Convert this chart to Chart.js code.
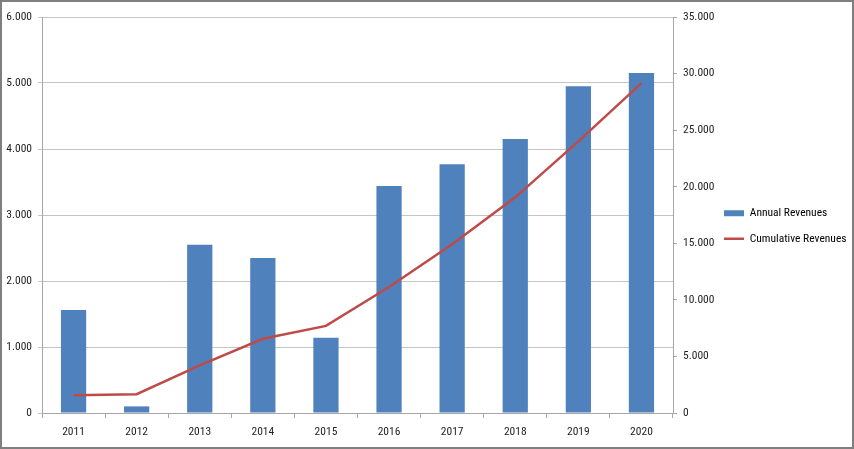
<!DOCTYPE html>
<html>
<head>
<meta charset="utf-8">
<script src="https://cdn.jsdelivr.net/npm/chart.js@4/dist/chart.umd.min.js"></script>
<style>
  html, body { margin: 0; padding: 0; background: #ffffff; }
  #wrap { position: absolute; left: 0; top: 0; width: 854px; height: 449px; box-sizing: border-box; border: 2px solid #7f7f7f; background: #fff; }
  #c { display: block; }
</style>
</head>
<body>
<div id="wrap"><canvas id="c" width="850" height="445"></canvas></div>
<script>
const years = ['2011', '2012', '2013', '2014', '2015', '2016', '2017', '2018', '2019', '2020'];
const annualRevenues = [1560, 100, 2550, 2350, 1140, 3440, 3770, 4150, 4950, 5150];
const cumulativeRevenues = [1560, 1660, 4210, 6560, 7700, 11140, 14910, 19060, 24010, 29160];
const leftTicksMax = 6000;
const rightTicksMax = 35000;

const fmt = v => Math.round(v).toString().replace(/\B(?=(\d{3})+(?!\d))/g, '.');
const fontFamily = '"Roboto Condensed", Carlito, sans-serif';
const fontSize = 11.5;
const textColor = '#1f1f1f';
const axisColor = '#a6a6a6';
const gridColor = '#c4c4c4';

const legendShift = {
  id: 'legendShift',
  afterLayout(chart) {
    if (chart.legend) {
      chart.legend.top -= 4; chart.legend.bottom -= 4;
      chart.legend.left -= 9;
      chart.legend.width += 9;
    }
  }
};

const chart = new Chart(document.getElementById('c'), {
  data: {
    labels: years,
    datasets: [
      {
        type: 'line',
        label: 'Cumulative Revenues',
        data: cumulativeRevenues,
        yAxisID: 'y2',
        borderColor: '#be4b48',
        backgroundColor: '#be4b48',
        borderWidth: 2.5,
        pointRadius: 0,
        tension: 0,
        order: 0
      },
      {
        type: 'bar',
        label: 'Annual Revenues',
        data: annualRevenues,
        yAxisID: 'y',
        backgroundColor: '#4f81bd',
        borderWidth: 0,
        categoryPercentage: 1,
        barPercentage: 0.4,
        order: 1
      }
    ]
  },
  plugins: [legendShift],
  options: {
    responsive: false,
    animation: false,
    layout: { padding: { top: 15, right: 0, bottom: 4, left: 0 } },
    plugins: {
      tooltip: { enabled: false },
      legend: {
        position: 'right',
        align: 'center',
        labels: {
          font: { family: fontFamily, size: fontSize },
          color: textColor,
          boxWidth: 20,
          boxHeight: 6,
          padding: 14,
          usePointStyle: true,
          pointStyleWidth: 20,
          generateLabels: chart => [
            { text: 'Annual Revenues', fillStyle: '#4f81bd', strokeStyle: '#4f81bd', lineWidth: 0, pointStyle: 'rect', datasetIndex: 1 },
            { text: 'Cumulative Revenues', fillStyle: '#be4b48', strokeStyle: '#be4b48', lineWidth: 2.5, pointStyle: 'line', datasetIndex: 0 }
          ]
        }
      }
    },
    scales: {
      x: {
        offset: true,
        grid: { offset: true, drawOnChartArea: false, drawTicks: true, tickLength: 5, color: axisColor },
        border: { display: true, color: axisColor },
        ticks: { font: { family: fontFamily, size: fontSize }, color: textColor, padding: 7, maxRotation: 0 },
        afterFit: s => { s.height = 30; }
      },
      y: {
        position: 'left',
        min: 0,
        max: leftTicksMax,
        ticks: { stepSize: 1000, callback: v => fmt(v), font: { family: fontFamily, size: fontSize }, color: textColor, padding: 6 },
        grid: { color: gridColor, tickLength: 4, drawTicks: true },
        border: { display: true, color: axisColor },
        afterFit: s => { s.width = 40; }
      },
      y2: {
        position: 'right',
        min: 0,
        max: rightTicksMax,
        ticks: { stepSize: 5000, callback: v => fmt(v), font: { family: fontFamily, size: fontSize }, color: textColor, padding: 6 },
        grid: { drawOnChartArea: false, tickLength: 4, color: axisColor },
        border: { display: true, color: axisColor },
        afterFit: s => { s.width = 46; }
      }
    }
  }
});

const origFit = chart.legend.fit.bind(chart.legend);
chart.legend.fit = function () { origFit(); this.width = 133; };
chart.update();
</script>
</body>
</html>
